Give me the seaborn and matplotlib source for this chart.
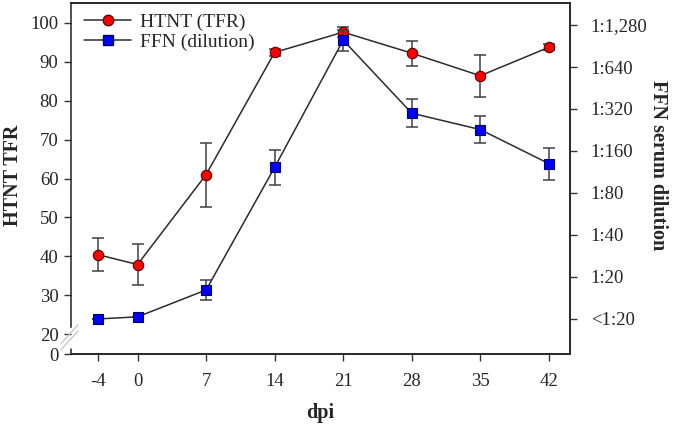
import matplotlib
matplotlib.use("Agg")
import matplotlib.pyplot as plt
import seaborn as sns
import pandas as pd
from matplotlib.lines import Line2D

# ---- data ----
dpi_days = [-4, 0, 7, 14, 21, 28, 35, 42]
htnt_tfr = [40.4, 37.9, 61.0, 92.4, 97.6, 92.2, 86.4, 93.7]
htnt_err = [4.2, 5.3, 8.2, 1.0, 1.3, 3.2, 5.4, 0.8]
# FFN dilution on log2 index: 0 = <1:20, 1 = 1:20, ... 7 = 1:1,280
ffn_idx = [0.0, 0.05, 0.69, 3.61, 6.64, 4.90, 4.51, 3.70]
ffn_err = [0.0, 0.0, 0.23, 0.41, 0.25, 0.33, 0.33, 0.38]
left_ticks = [20, 30, 40, 50, 60, 70, 80, 90, 100]
right_labels = ["<1:20", "1:20", "1:40", "1:80", "1:160", "1:320", "1:640", "1:1,280"]
x_ticks = [-4, 0, 7, 14, 21, 28, 35, 42]

df = pd.DataFrame({"dpi": dpi_days, "htnt": htnt_tfr, "ffn": ffn_idx})

sns.set_style("ticks")
plt.rcParams["font.family"] = ["Liberation Serif", "DejaVu Serif"]

fig = plt.figure(figsize=(6.76, 4.24), dpi=100)
ax = fig.add_axes([0.105, 0.165, 0.738, 0.828])
ax2 = ax.twinx()

line_col = "#2b2b2b"
err_col = "#404040"

# left axis series
ax.errorbar(dpi_days, htnt_tfr, yerr=htnt_err, fmt="none", ecolor=err_col,
            elinewidth=1.1, capsize=4, capthick=1.1, zorder=2)
sns.lineplot(data=df, x="dpi", y="htnt", ax=ax, color=line_col, lw=1.1,
             marker="o", markersize=7.5, markerfacecolor="#ff0000",
             markeredgecolor="#5a0000", markeredgewidth=0.8, zorder=3)

# right axis series
ax2.errorbar(dpi_days, ffn_idx, yerr=ffn_err, fmt="none", ecolor=err_col,
             elinewidth=1.1, capsize=4, capthick=1.1, zorder=2)
sns.lineplot(data=df, x="dpi", y="ffn", ax=ax2, color=line_col, lw=1.1,
             marker="s", markersize=6.5, markerfacecolor="#0000ff",
             markeredgecolor="#00005a", markeredgewidth=0.8, zorder=3)

# axes limits (left axis has a break between 0 and 20)
zero_pos = 14.9
ax.set_xlim(-6.8, 44.15)
ax.set_ylim(zero_pos, 105.1)
ax2.set_ylim(-0.836, 7.525)

ax.set_xticks(x_ticks)
ax.set_xticklabels([str(v) for v in x_ticks])
ax.set_yticks([zero_pos] + left_ticks)
ax.set_yticklabels(["0"] + [str(v) for v in left_ticks])
ax2.set_yticks(range(len(right_labels)))
ax2.set_yticklabels(right_labels)

for a in (ax, ax2):
    a.tick_params(axis="both", labelsize=13.5, length=5, width=1, color="#333333",
                  direction="out", pad=6)
    for s in a.spines.values():
        s.set_color("#222222")
        s.set_linewidth(1.1)
ax.tick_params(axis="x", pad=9)
ax2.tick_params(axis="y", pad=10)
ax.tick_params(axis="y", pad=4)

ax.set_xlabel("dpi", fontsize=14.5, fontweight="bold", labelpad=9)
ax.set_ylabel("HTNT TFR", fontsize=14.5, fontweight="bold")
ax.yaxis.set_label_coords(-0.096, 0.51)
ax2.set_ylabel("FFN serum dilution", fontsize=14.5, fontweight="bold",
               rotation=270)
ax2.yaxis.set_label_coords(1.197, 0.537)

# axis break on the left spine
ax.spines["left"].set_bounds(21.9, 105.1)
ax2.spines["left"].set_visible(False)
ax.plot([-6.8, -6.8], [zero_pos, zero_pos + 1.3], color="#222222", lw=1.1,
        clip_on=False, transform=ax.transData, zorder=5)
tr = ax.get_yaxis_transform()
for dy in (0.0, 1.6):
    ax.plot([-0.02, 0.014], [16.0 + dy, 20.8 + dy], color="#c8c8c8", lw=1.0,
            transform=tr, clip_on=False, zorder=5)

# legend
handles = [
    Line2D([], [], color=line_col, lw=1.1, marker="o", markersize=7.5,
           markerfacecolor="#ff0000", markeredgecolor="#5a0000"),
    Line2D([], [], color=line_col, lw=1.1, marker="s", markersize=6.5,
           markerfacecolor="#0000ff", markeredgecolor="#00005a"),
]
ax2.legend(handles, ["HTNT (TFR)", "FFN (dilution)"], loc="upper left",
           bbox_to_anchor=(0.005, 1.0), frameon=False, fontsize=14,
           handlelength=2.4, handletextpad=0.45, labelspacing=0.1,
           borderaxespad=0.15)

fig.savefig("out.png", dpi=100)
